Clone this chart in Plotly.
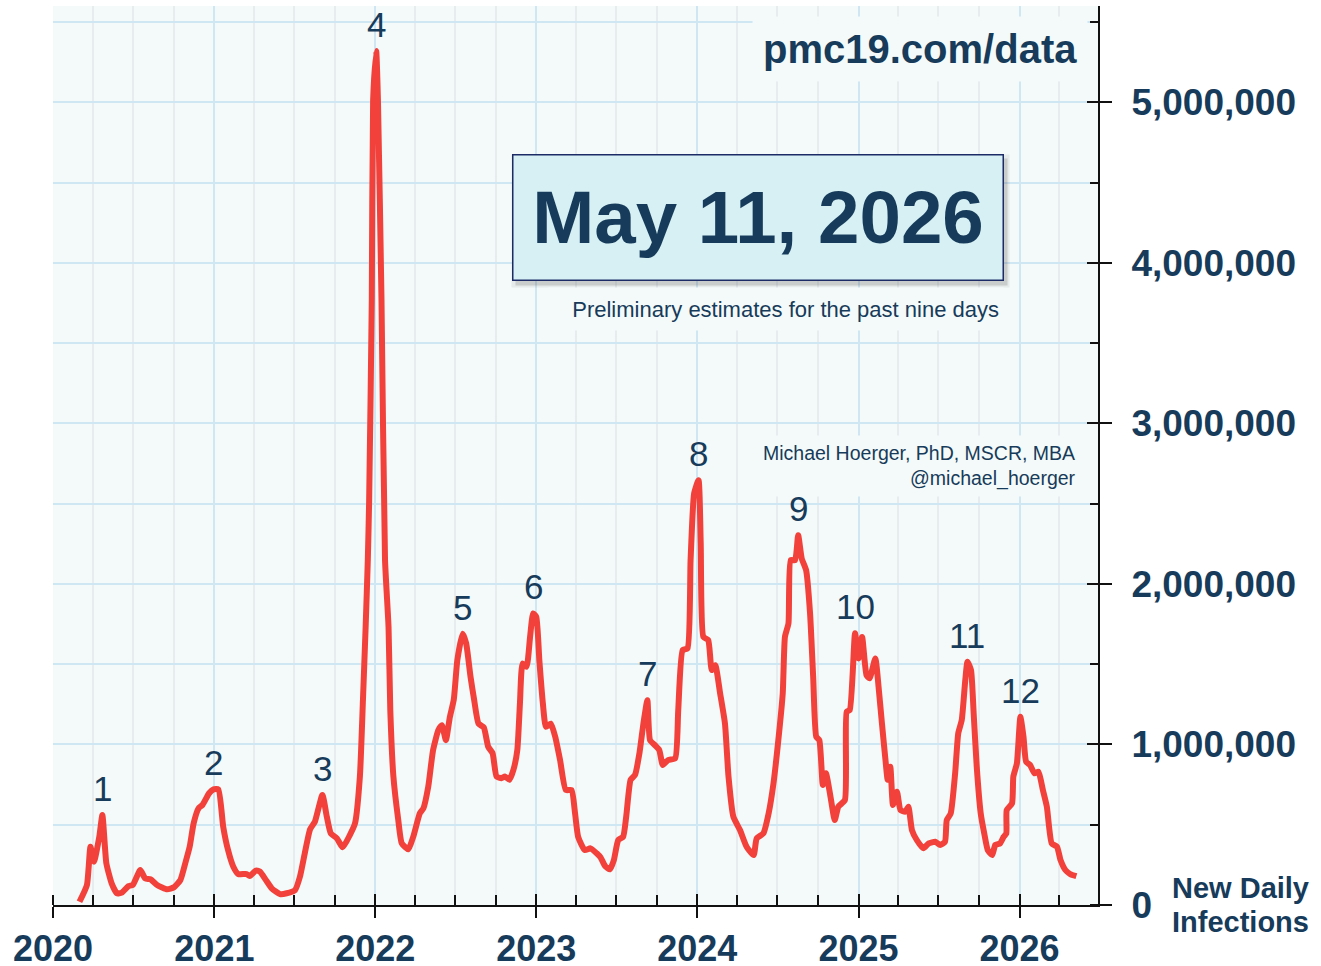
import plotly.graph_objects as go

# ---------------- data ----------------
dates = [
    "2020-03-01", "2020-03-18", "2020-03-26", "2020-04-03", "2020-04-15", "2020-04-22",
    "2020-05-01", "2020-05-13", "2020-05-25", "2020-06-05", "2020-06-20", "2020-06-30",
    "2020-07-17", "2020-07-28", "2020-08-09", "2020-08-24", "2020-09-16", "2020-10-01",
    "2020-10-16", "2020-10-27", "2020-11-06", "2020-11-15", "2020-11-26", "2020-12-05",
    "2020-12-20", "2020-12-30", "2021-01-10", "2021-01-21", "2021-02-01", "2021-02-13",
    "2021-02-24", "2021-03-15", "2021-03-22", "2021-04-05", "2021-04-14", "2021-04-29",
    "2021-05-11", "2021-05-30", "2021-06-14", "2021-07-03", "2021-07-14", "2021-07-25",
    "2021-08-06", "2021-08-17", "2021-09-03", "2021-09-13", "2021-09-22", "2021-10-06",
    "2021-10-19", "2021-11-05", "2021-11-16", "2021-11-27", "2021-12-04", "2021-12-10",
    "2021-12-15", "2021-12-18", "2021-12-24", "2021-12-27", "2022-01-03", "2022-01-07",
    "2022-01-15", "2022-01-23", "2022-01-31", "2022-02-04", "2022-02-11", "2022-02-22",
    "2022-03-02", "2022-03-17", "2022-03-28", "2022-04-12", "2022-04-20", "2022-05-01",
    "2022-05-12", "2022-05-24", "2022-06-01", "2022-06-10", "2022-06-19", "2022-06-28",
    "2022-07-06", "2022-07-18", "2022-07-26", "2022-08-05", "2022-08-13", "2022-08-23",
    "2022-09-04", "2022-09-14", "2022-09-24", "2022-10-03", "2022-10-14", "2022-10-22",
    "2022-11-01", "2022-11-10", "2022-11-19", "2022-11-25", "2022-12-01", "2022-12-10",
    "2022-12-18", "2022-12-25", "2023-01-01", "2023-01-08", "2023-01-16", "2023-01-23",
    "2023-02-03", "2023-02-13", "2023-02-24", "2023-03-09", "2023-03-22", "2023-03-30",
    "2023-04-06", "2023-04-21", "2023-05-04", "2023-05-18", "2023-05-27", "2023-06-06",
    "2023-06-17", "2023-06-26", "2023-07-06", "2023-07-17", "2023-07-24", "2023-08-03",
    "2023-08-13", "2023-08-23", "2023-09-01", "2023-09-10", "2023-09-16", "2023-09-27",
    "2023-10-07", "2023-10-15", "2023-10-27", "2023-11-12", "2023-11-19", "2023-11-29",
    "2023-12-10", "2023-12-17", "2023-12-25", "2024-01-04", "2024-01-09", "2024-01-15",
    "2024-01-26", "2024-02-03", "2024-02-11", "2024-02-22", "2024-03-04", "2024-03-12",
    "2024-03-23", "2024-04-07", "2024-04-22", "2024-05-08", "2024-05-15", "2024-05-30",
    "2024-06-11", "2024-06-22", "2024-07-03", "2024-07-13", "2024-07-18", "2024-07-26",
    "2024-07-31", "2024-08-10", "2024-08-17", "2024-08-25", "2024-09-04", "2024-09-13",
    "2024-09-20", "2024-09-27", "2024-10-04", "2024-10-12", "2024-10-19", "2024-10-28",
    "2024-11-08", "2024-11-16", "2024-12-01", "2024-12-05", "2024-12-12", "2024-12-24",
    "2025-01-01", "2025-01-09", "2025-01-19", "2025-01-26", "2025-02-08", "2025-02-16",
    "2025-02-23", "2025-03-03", "2025-03-08", "2025-03-14", "2025-03-20", "2025-03-29",
    "2025-04-06", "2025-04-17", "2025-04-24", "2025-05-02", "2025-05-13", "2025-05-28",
    "2025-06-09", "2025-06-24", "2025-07-05", "2025-07-16", "2025-07-20", "2025-07-29",
    "2025-08-08", "2025-08-15", "2025-08-23", "2025-08-31", "2025-09-05", "2025-09-13",
    "2025-09-19", "2025-09-26", "2025-10-05", "2025-10-13", "2025-10-21", "2025-10-31",
    "2025-11-07", "2025-11-18", "2025-11-26", "2025-12-02", "2025-12-03", "2025-12-15",
    "2025-12-18", "2025-12-26", "2026-01-03", "2026-01-10", "2026-01-16", "2026-01-25",
    "2026-02-04", "2026-02-13", "2026-02-23", "2026-03-04", "2026-03-15", "2026-03-27",
    "2026-04-04", "2026-04-15", "2026-04-26", "2026-05-10",
]

infections = [
    20000, 125000, 363000, 270000, 425000, 560000,
    260000, 135000, 73000, 77000, 118000, 125000,
    218000, 166000, 160000, 125000, 98000, 110000,
    156000, 260000, 363000, 509000, 602000, 623000,
    696000, 720000, 720000, 488000, 342000, 238000,
    193000, 193000, 180000, 214000, 208000, 151000,
    104000, 68000, 73000, 93000, 176000, 322000,
    471000, 519000, 685000, 550000, 446000, 415000,
    359000, 440000, 509000, 800000, 1280000, 1730000,
    2150000, 2520000, 3770000, 5010000, 5320000, 5010000,
    3770000, 2150000, 1730000, 1210000, 800000, 530000,
    384000, 347000, 425000, 571000, 602000, 737000,
    965000, 1090000, 1120000, 1027000, 1170000, 1280000,
    1525000, 1690000, 1630000, 1420000, 1280000, 1130000,
    1106000, 986000, 945000, 800000, 790000, 800000,
    780000, 840000, 965000, 1256000, 1505000, 1484000,
    1670000, 1816000, 1795000, 1525000, 1256000, 1110000,
    1130000, 1048000, 903000, 716000, 716000, 571000,
    425000, 342000, 353000, 322000, 296000, 243000,
    222000, 280000, 405000, 425000, 550000, 780000,
    810000, 945000, 1130000, 1276000, 1027000, 996000,
    965000, 872000, 903000, 913000, 1214000, 1588000,
    1598000, 2148000, 2563000, 2646000, 2252000, 1670000,
    1650000, 1463000, 1494000, 1318000, 1130000, 800000,
    550000, 467000, 363000, 311000, 415000, 446000,
    571000, 758000, 1027000, 1318000, 1670000, 1754000,
    2148000, 2148000, 2304000, 2159000, 2086000, 1816000,
    1422000, 1048000, 1027000, 747000, 820000, 696000,
    529000, 612000, 654000, 1204000, 1214000, 1692000,
    1536000, 1670000, 1432000, 1412000, 1536000, 1339000,
    1130000, 903000, 780000, 861000, 623000, 706000,
    592000, 581000, 612000, 467000, 405000, 353000,
    384000, 394000, 374000, 394000, 529000, 571000,
    820000, 1069000, 1152000, 1401000, 1515000, 1463000,
    1194000, 861000, 571000, 446000, 342000, 311000,
    374000, 384000, 425000, 446000, 592000, 633000,
    800000, 882000, 1172000, 1048000, 892000, 872000,
    820000, 830000, 716000, 612000, 384000, 363000,
    280000, 218000, 193000, 180000,
]

peak_labels = ["1", "2", "3", "4", "5", "6", "7", "8", "9", "10", "11", "12"]
peak_dates = ["2020-04-22", "2020-12-30", "2021-09-03", "2022-01-03", "2022-07-18",
              "2022-12-25", "2023-09-10", "2024-01-04", "2024-08-17", "2024-12-24",
              "2025-09-05", "2026-01-03"]

x_range = ["2020-01-01", "2026-06-28"]
y_range = [0, 5600000]
y_major = 1000000
y_minor = 500000

date_text = "May 11, 2026"
site_text = "pmc19.com/data"
prelim_text = "Preliminary estimates for the past nine days"
author_text = "Michael Hoerger, PhD, MSCR, MBA<br>@michael_hoerger"
ylabel_lines = ["New Daily", "Infections"]

# ---------------- style ----------------
NAVY = "#173b5a"
RED = "#f2413a"
PLOT_BG = "#f4faf9"
GRID_MAJOR = "#cfe6f3"
GRID_MINOR = "#e7edef"
FONT = "Liberation Sans, Arial, sans-serif"

fig = go.Figure()
fig.add_trace(go.Scatter(
    x=dates, y=infections, mode="lines",
    line=dict(color=RED, width=6, shape="spline", smoothing=0.5),
    hoverinfo="skip", showlegend=False,
))
# invisible copy used to activate the overlay axes (inner half of major ticks)
fig.add_trace(go.Scatter(
    x=dates, y=infections, mode="lines", xaxis="x2", yaxis="y2",
    line=dict(color="rgba(0,0,0,0)", width=0),
    hoverinfo="skip", showlegend=False,
))

fig.update_layout(
    width=1321, height=966,
    margin=dict(l=53, r=223, t=6, b=61, autoexpand=False),
    paper_bgcolor="white",
    plot_bgcolor=PLOT_BG,
    font=dict(family=FONT, color=NAVY),
    xaxis=dict(
        type="date", range=x_range, tick0="2020-01-01", dtick="M12", tickformat="%Y",
        ticks="outside", ticklen=11, tickwidth=2, tickcolor="#111",
        showline=True, linecolor="#111", linewidth=2,
        showgrid=True, gridcolor=GRID_MAJOR, gridwidth=1.5, zeroline=False,
        minor=dict(dtick="M3", tick0="2020-01-01", ticks="inside", ticklen=10,
                   tickwidth=1.5, tickcolor="#111", showgrid=True,
                   gridcolor=GRID_MINOR, gridwidth=1.5),
        tickfont=dict(family=FONT, size=36, color=NAVY, weight="bold"),
        ticklabelstandoff=0, fixedrange=True,
    ),
    xaxis2=dict(
        type="date", range=x_range, tick0="2020-01-01", dtick="M12",
        overlaying="x", anchor="y2", side="bottom",
        ticks="inside", ticklen=11, tickwidth=2, tickcolor="#111",
        showticklabels=False, showgrid=False, showline=False, zeroline=False,
        fixedrange=True,
    ),
    yaxis=dict(
        range=y_range, dtick=y_major, tick0=0, tickformat=",d", side="right",
        ticks="outside", ticklen=12, tickwidth=2, tickcolor="#111",
        showline=True, linecolor="#111", linewidth=2,
        showgrid=True, gridcolor=GRID_MAJOR, gridwidth=1.5, zeroline=False,
        minor=dict(dtick=y_minor, tick0=0, ticks="inside", ticklen=8, tickwidth=1.5,
                   tickcolor="#111", showgrid=True, gridcolor=GRID_MAJOR, gridwidth=1.5),
        tickfont=dict(family=FONT, size=37, color=NAVY, weight="bold"),
        ticklabelstandoff=12, fixedrange=True,
    ),
    yaxis2=dict(
        range=y_range, dtick=y_major, tick0=0, overlaying="y", anchor="x2", side="right",
        ticks="inside", ticklen=11, tickwidth=2, tickcolor="#111",
        showticklabels=False, showgrid=False, showline=False, zeroline=False,
        fixedrange=True,
    ),
)

annotations = []

# date box with soft shadow
box_x, box_y, box_w, box_h = 0.6751, 0.7642, 489, 124
for dx, dy, grow, alpha in [(2, -3, 8, 0.07), (3, -4, 2, 0.15)]:
    annotations.append(dict(
        xref="paper", yref="paper", x=box_x, y=box_y, xanchor="center", yanchor="middle",
        text=" ", showarrow=False, width=box_w + grow, height=box_h + grow,
        font=dict(size=10, color="rgba(0,0,0,0)"),
        bgcolor=f"rgba(40,40,40,{alpha})", borderpad=0, xshift=dx, yshift=dy,
    ))
annotations.append(dict(
    xref="paper", yref="paper", x=box_x, y=box_y, xanchor="center", yanchor="middle",
    text=date_text, showarrow=False, width=box_w, height=box_h,
    font=dict(size=74.5, color=NAVY, weight="bold"),
    bgcolor="#d6f0f4", bordercolor="#1c2a66", borderwidth=1.5, borderpad=0,
))

# preliminary note
annotations.append(dict(
    xref="paper", yref="paper", x=0.9100, y=0.663, xanchor="right", yanchor="middle",
    text=prelim_text, showarrow=False, width=447, height=34, align="right",
    font=dict(size=22, color=NAVY), bgcolor=PLOT_BG, borderpad=4,
))

# site
annotations.append(dict(
    xref="paper", yref="paper", x=0.9904, y=0.9522, xanchor="right", yanchor="middle",
    text=site_text, showarrow=False, align="right",
    font=dict(size=40, color=NAVY, weight="bold"), bgcolor=PLOT_BG, borderpad=10,
))

# author
annotations.append(dict(
    xref="paper", yref="paper", x=0.9856, y=0.4878, xanchor="right", yanchor="middle",
    text=author_text, showarrow=False, align="right",
    font=dict(size=19.5, color=NAVY), bgcolor=PLOT_BG, borderpad=6,
))

# axis title lines
for line, yp in zip(ylabel_lines, [0.0189, -0.0189]):
    annotations.append(dict(
        xref="paper", yref="paper", x=1.0689, y=yp, xanchor="left", yanchor="middle",
        text=line, showarrow=False, align="left",
        font=dict(size=29, color=NAVY, weight="bold"),
    ))

# wave labels, placed on the peaks of the series
lookup = dict(zip(dates, infections))
for lab, d in zip(peak_labels, peak_dates):
    annotations.append(dict(
        xref="x", yref="y", x=d, y=lookup[d], xanchor="center", yanchor="bottom",
        text=lab, showarrow=False, yshift=5,
        font=dict(size=35, color=NAVY),
    ))

fig.update_layout(annotations=annotations)

fig.write_html(
    "out.html",
    config={"displayModeBar": False},
    post_script="document.body.style.margin='0px';document.body.style.padding='0px';",
)
